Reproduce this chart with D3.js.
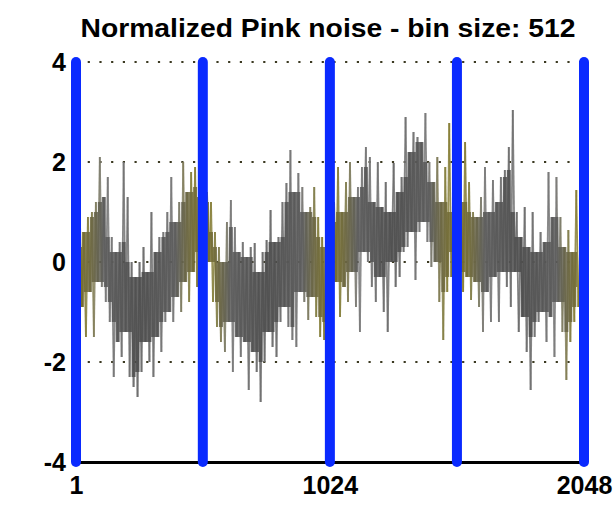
<!DOCTYPE html>
<html>
<head>
<meta charset="utf-8">
<script src="https://cdn.jsdelivr.net/npm/d3@7"></script>
<style>
  body { margin: 0; background: #fff; }
  svg { display: block; }
  text { font-family: "Liberation Sans", Arial, sans-serif; fill: #000; }
</style>
</head>
<body>
<svg id="chart" width="616" height="507"></svg>
<script>
// Chart content
const titleText = "Normalized Pink noise - bin size: 512";
const binSize = 512;
const sampleStep = 8;            // one stored value every 8 samples
const binEdges = [1, 512, 1024, 1536, 2048];
const xTickValues = [1, 1024, 2048];
const yTickValues = [-4, -2, 0, 2, 4];
const gridValues = [4, 2, 0, -2];

// Normalized pink-noise signal, bin by bin (samples 1, 9, 17, ...)
const bin1 = [
  0.3, -1.2, 0.8, -0.9, 0.6, -1.5, 0.9, -0.6, 1.0, -1.5, 1.2, -0.4, 2.1, -0.5, 1.3, -0.8,
  1.7, -1.2, 0.5, -2.3, 0.2, -1.6, 0.4, -1.9, 2.0, -1.4, 1.3, -2.3, 0.0, -2.5, -0.3, -2.7,
  0.0, -2.2, 0.3, -1.6, -0.2, -2.0, 1.0, -2.3, 0.2, -1.5, 0.5, -1.8, 0.6, -1.2, 1.0, -1.0,
  1.7, -1.2, 0.8, -0.7, 1.2, -1.0, 2.0, -0.4, 1.4, -0.8, 1.8, -0.2, 1.9, -0.5, 1.5, 0.2
];
const bin2 = [
  1.3, -0.3, 1.4, 0.0, 1.2, -0.8, 0.6, -1.3, 0.3, -1.6, 0.0, -1.8, 0.8, -1.2, 1.24, -2.2,
  0.7, -1.5, 0.2, -1.9, 0.4, -1.6, 0.1, -2.56, 0.3, -1.8, 0.38, -2.2, -0.2, -2.8, 0.2, -2.0,
  0.44, -1.4, 1.04, -1.7, 0.4, -1.9, 0.5, -1.2, 1.2, -0.9, 1.58, -1.3, 2.24, -1.56, 1.4, -1.7,
  1.78, -0.6, 1.5, -0.8, 1.0, -1.16, 1.1, -0.7, 1.5, -1.1, 0.9, -1.5, 0.5, -1.56, 0.3, -1.2
];
const bin3 = [
  0.8, -0.6, 1.2, -0.4, 1.9, -1.1, 1.0, -0.5, 1.6, -0.8, 2.0, -0.2, 1.3, -0.9, 1.5, -1.4,
  1.9, 0.2, 2.3, 0.0, 2.1, -0.5, 1.2, -0.8, 2.0, -0.3, 1.1, -1.0, 1.6, -1.4, 1.0, 0.0,
  1.98, -0.5, 1.4, -0.3, 1.7, 0.2, 2.9, 0.3, 2.2, 0.6, 2.6, -0.36, 2.5, 0.6, 2.4, 0.8,
  2.98, 0.4, 2.0, -0.1, 1.6, 0.0, 2.1, -0.8, 1.2, -1.56, 1.9, -0.6, 2.78, -0.3, 1.0, 0.2
];
const bin4 = [
  1.4, -0.2, 1.2, -0.6, 2.4, -0.3, 1.6, -0.76, 1.0, -0.4, 0.9, -0.9, 1.3, -1.4, 1.9, -0.6,
  1.0, -1.2, 1.64, -0.3, 1.2, -1.2, 1.7, -0.2, 1.84, -0.5, 2.3, -0.9, 3.04, -0.2, 1.0, -1.4,
  0.5, -1.1, 1.1, -1.8, 0.3, -2.56, 1.0, -1.5, 0.2, -1.2, 0.6, -1.0, 0.4, -1.6, 1.8, -1.1,
  0.9, -1.9, 1.7, -0.8, 0.9, -1.4, 0.3, -2.36, 0.64, -1.6, 0.2, -1.2, 1.44, -0.9, 0.4, -0.5
];
const signal = [...bin1, ...bin2, ...bin3, ...bin4];
const points = signal.map((v, k) => ({ sample: 1 + k * sampleStep, value: v }));

const svg = d3.select("#chart");

const x = d3.scaleLinear().domain([1, 2048]).range([76, 584]);
const y = d3.scaleLinear().domain([-4, 4]).range([462, 62]);

// Shading along each bin: olive at the borders, grey inside
function binPos(sample) {
  const pos = ((sample - 1) % binSize) / binSize;
  return Math.min(pos, 1 - pos);
}
const lineShade = d3.scaleLinear()
  .domain([0, 0.09, 0.22, 0.5])
  .range(["#887c26", "#86803e", "#7a7a7a", "#6c6c6c"])
  .clamp(true);
const coreShade = d3.scaleLinear()
  .domain([0, 0.09, 0.22, 0.5])
  .range(["#746a22", "#706a3a", "#585858", "#4a4a4a"])
  .clamp(true);

const defs = svg.append("defs");
const grad = defs.append("linearGradient")
  .attr("id", "coreGrad")
  .attr("gradientUnits", "userSpaceOnUse")
  .attr("x1", x(1)).attr("x2", x(2048))
  .attr("y1", 0).attr("y2", 0);
grad.selectAll("stop")
  .data(d3.range(1, 2049, 16))
  .join("stop")
  .attr("offset", s => (s - 1) / 2047)
  .attr("stop-color", s => coreShade(binPos(s)));

// Dotted grid
svg.append("g")
  .selectAll("line")
  .data(gridValues)
  .join("line")
  .attr("x1", x(1)).attr("x2", x(2048))
  .attr("y1", d => y(d)).attr("y2", d => y(d))
  .attr("stroke", "#3c3a22")
  .attr("stroke-width", 2.2)
  .attr("stroke-dasharray", "2.2,9.5");

// Signal trace, one segment per pair of neighbouring values
const segs = d3.pairs(points);
svg.append("g")
  .selectAll("line")
  .data(segs)
  .join("line")
  .attr("x1", d => x(d[0].sample)).attr("y1", d => y(d[0].value))
  .attr("x2", d => x(d[1].sample)).attr("y2", d => y(d[1].value))
  .attr("stroke", d => lineShade(binPos((d[0].sample + d[1].sample) / 2)))
  .attr("stroke-opacity", 0.85)
  .attr("stroke-width", 1.8);

// Dense core of the trace: the range crossed by five successive segments
const core = [];
for (let k = 2; k < points.length - 3; k++) {
  const w = points.slice(k - 2, k + 4).map(p => p.value).sort(d3.ascending);
  core.push({ sample: (points[k].sample + points[k + 1].sample) / 2, lo: w[2], hi: w[3] });
}
svg.append("path")
  .datum(core)
  .attr("fill", "url(#coreGrad)")
  .attr("fill-opacity", 0.85)
  .attr("d", d3.area()
    .x(d => x(d.sample))
    .y0(d => y(d.lo))
    .y1(d => y(d.hi))
    .curve(d3.curveStep));

// Bottom axis
const xAxis = svg.append("g")
  .attr("transform", `translate(0,${y(-4)})`)
  .call(d3.axisBottom(x).tickValues(xTickValues).tickSize(0).tickPadding(14).tickFormat(d => String(d)));
xAxis.select(".domain").attr("stroke", "#000").attr("stroke-width", 3);
xAxis.selectAll("text").style("font-size", "25px").style("font-weight", "bold").attr("fill", "#000");

// Left axis labels
const yAxis = svg.append("g")
  .attr("transform", `translate(${x(1)},0)`)
  .call(d3.axisLeft(y).tickValues(yTickValues).tickSize(0).tickPadding(10).tickFormat(d => String(d)));
yAxis.select(".domain").remove();
yAxis.selectAll("text").style("font-size", "25px").style("font-weight", "bold").attr("fill", "#000");

// Bin boundaries
svg.append("g")
  .selectAll("line")
  .data(binEdges)
  .join("line")
  .attr("x1", d => x(d)).attr("x2", d => x(d))
  .attr("y1", y(4)).attr("y2", y(-4))
  .attr("stroke", "#0a2aff")
  .attr("stroke-width", 10)
  .attr("stroke-linecap", "round");

// Title
svg.append("text")
  .attr("x", 328).attr("y", 37)
  .attr("text-anchor", "middle")
  .attr("textLength", 495)
  .attr("lengthAdjust", "spacingAndGlyphs")
  .style("font-size", "26px")
  .style("font-weight", "bold")
  .text(titleText);
</script>
</body>
</html>
